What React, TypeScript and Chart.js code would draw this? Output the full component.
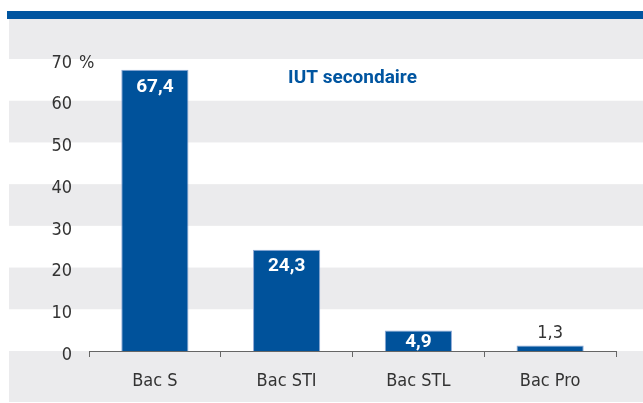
import React, { useEffect, useRef } from "react";
import { Chart, registerables } from "chart.js";

Chart.register(...registerables);

const categories = ["Bac S", "Bac STI", "Bac STL", "Bac Pro"];
const values = [67.4, 24.3, 4.9, 1.3];
const valueLabels = ["67,4", "24,3", "4,9", "1,3"];
const yTicks = [0, 10, 20, 30, 40, 50, 60, 70];
const seriesTitle = "IUT secondaire";

const BLUE = "#00529b";
const GRAY_BG = "#ebebed";
const TEXT = "#333333";
const FONT_REG = "'DejaVu Sans Condensed', 'Liberation Sans Narrow', sans-serif";
const FONT_BOLD = "Roboto, 'Liberation Sans', sans-serif";
const TICK_SIZE = 18;

export default function App() {
  const ref = useRef<HTMLCanvasElement | null>(null);

  useEffect(() => {
    const canvas = ref.current;
    if (!canvas) return;

    const background = {
      id: "bgStripes",
      beforeDraw(chart: any) {
        const { ctx } = chart;
        const y = chart.scales.y;
        ctx.save();
        ctx.fillStyle = "#ffffff";
        ctx.fillRect(0, 0, chart.width, chart.height);
        ctx.fillStyle = "#0055a0";
        ctx.fillRect(7, 11, chart.width - 7, 8);
        ctx.fillStyle = GRAY_BG;
        ctx.fillRect(9, 19, chart.width - 9, chart.height - 20);
        ctx.fillStyle = "#ffffff";
        for (let i = 0; i < yTicks.length - 1; i += 2) {
          const y1 = y.getPixelForValue(yTicks[i + 1]);
          const y2 = y.getPixelForValue(yTicks[i]);
          ctx.fillRect(9, y1, chart.width - 9, y2 - y1);
        }
        ctx.restore();
      },
    };

    const labels = {
      id: "valueLabels",
      afterDatasetsDraw(chart: any) {
        const { ctx, chartArea } = chart;
        const meta = chart.getDatasetMeta(0);
        const yScale = chart.scales.y;
        ctx.save();
        ctx.textAlign = "center";
        ctx.textBaseline = "middle";
        meta.data.forEach((bar: any, i: number) => {
          const top = bar.y;
          const bottom = yScale.getPixelForValue(0);
          if (bottom - top > 14) {
            ctx.fillStyle = "#ffffff";
            ctx.font = `bold 19px ${FONT_BOLD}`;
            const cy = Math.min(top + 17, (top + bottom) / 2 + 1);
            ctx.fillText(valueLabels[i], bar.x, cy);
          } else {
            ctx.fillStyle = TEXT;
            ctx.font = `${TICK_SIZE}px ${FONT_REG}`;
            ctx.fillText(valueLabels[i], bar.x, top - 12);
          }
        });
        // series title
        ctx.fillStyle = "#0055a0";
        ctx.font = `bold 19px ${FONT_BOLD}`;
        ctx.fillText(seriesTitle, (chartArea.left + chartArea.right) / 2, 78);
        // percent sign after top tick
        ctx.fillStyle = TEXT;
        ctx.font = `${TICK_SIZE}px ${FONT_REG}`;
        ctx.textAlign = "left";
        ctx.fillText("%", 79, yScale.getPixelForValue(yTicks[yTicks.length - 1]) + 4);
        ctx.restore();
      },
    };

    const chart = new Chart(canvas, {
      type: "bar",
      data: {
        labels: categories,
        datasets: [
          {
            data: values,
            backgroundColor: BLUE,
            borderColor: "#8ea9d6",
            borderWidth: 1,
            barPercentage: 0.51,
            categoryPercentage: 1,
          },
        ],
      },
      options: {
        responsive: false,
        animation: false,
        devicePixelRatio: 1,
        layout: { padding: { top: 59, right: 27, left: 0, bottom: 0 } },
        plugins: {
          legend: { display: false },
          tooltip: { enabled: false },
          title: { display: false },
        },
        scales: {
          x: {
            offset: true,
            grid: {
              display: true,
              offset: true,
              drawOnChartArea: false,
              drawTicks: true,
              tickLength: 6,
              color: "#666666",
            },
            border: { display: true, color: "#666666", width: 1 },
            ticks: {
              color: TEXT,
              font: { family: FONT_REG, size: TICK_SIZE },
              padding: 14,
            },
            afterFit(scale: any) {
              scale.height = 52;
            },
          },
          y: {
            min: 0,
            max: 70,
            afterBuildTicks(scale: any) {
              scale.ticks = yTicks.map((v) => ({ value: v }));
            },
            grid: { display: false, drawTicks: false },
            border: { display: false },
            ticks: {
              color: TEXT,
              font: { family: FONT_REG, size: TICK_SIZE },
              padding: 17,
              labelOffset: 4,
              callback: (v: any) => String(v),
            },
            afterFit(scale: any) {
              scale.width = 89;
            },
          },
        },
      },
      plugins: [background, labels],
    });

    return () => chart.destroy();
  }, []);

  return (
    <div style={{ position: "fixed", left: 0, top: 0, width: 643, height: 403 }}>
      <canvas ref={ref} width={643} height={403} style={{ display: "block" }} />
    </div>
  );
}
